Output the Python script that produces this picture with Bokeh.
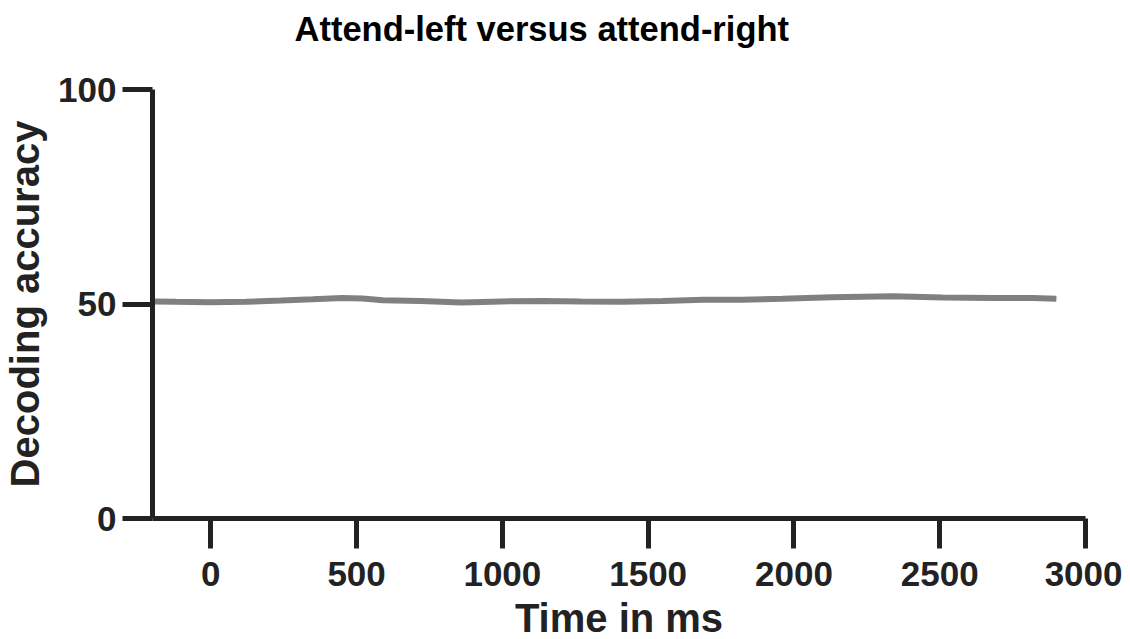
from bokeh.plotting import figure
from bokeh.models import Range1d, FixedTicker, Title
from bokeh.embed import file_html
from bokeh.resources import INLINE

# Data
time_ms = [-200, -120, 0, 120, 240, 350, 450, 520, 590, 720, 860, 1000, 1140, 1270,
           1410, 1550, 1690, 1820, 1960, 2130, 2340, 2510, 2680, 2820, 2900]
accuracy = [50.6, 50.5, 50.4, 50.5, 50.8, 51.1, 51.4, 51.3, 50.9, 50.7, 50.35, 50.6, 50.7, 50.6,
            50.5, 50.7, 51.0, 51.0, 51.2, 51.6, 51.8, 51.5, 51.4, 51.4, 51.2]
sem = [0.45, 0.45, 0.45, 0.45, 0.45, 0.5, 0.5, 0.5, 0.45, 0.45, 0.45, 0.45, 0.45, 0.45,
       0.45, 0.45, 0.45, 0.45, 0.45, 0.5, 0.5, 0.45, 0.45, 0.45, 0.45]
x_ticks = [0, 500, 1000, 1500, 2000, 2500, 3000]
y_ticks = [0, 50, 100]
title_text = "Attend-left versus attend-right"

lower = [a - s for a, s in zip(accuracy, sem)]
upper = [a + s for a, s in zip(accuracy, sem)]

FONT = "Liberation Sans"
AX = "#222222"

p = figure(frame_width=933, frame_height=429,
           x_range=Range1d(-200, 3000), y_range=Range1d(0, 100),
           output_backend="svg", toolbar_location=None,
           min_border_left=144, min_border_top=89, min_border_right=37, min_border_bottom=110,
           title=title_text)

p.title.text_font = FONT
p.title.text_font_style = "bold"
p.title.text_font_size = "34.5px"
p.title.text_color = "#000000"
p.title.align = "left"
p.title.offset = 142
p.title.standoff = 10

# blank spacer between the frame and the title
spacer = Title(text=" ", text_font_size="10px", standoff=24)
p.add_layout(spacer, "above")

p.grid.visible = False
p.outline_line_color = None
p.background_fill_color = "white"
p.border_fill_color = "white"

p.varea(x=time_ms, y1=lower, y2=upper, fill_color="#e0e0e0", fill_alpha=0.9)
p.line(time_ms, accuracy, line_color="#808080", line_width=6)

for ax in (p.xaxis[0], p.yaxis[0]):
    ax.axis_line_color = AX
    ax.axis_line_width = 5
    ax.major_tick_line_color = AX
    ax.major_tick_line_width = 5
    ax.major_tick_out = 30
    ax.major_tick_in = 0
    ax.minor_tick_line_color = None
    ax.major_label_text_font = FONT
    ax.major_label_text_font_style = "bold"
    ax.major_label_text_font_size = "35px"
    ax.major_label_text_color = AX
    ax.axis_label_text_font = FONT
    ax.axis_label_text_font_style = "bold"
    ax.axis_label_text_font_size = "40px"
    ax.axis_label_text_color = AX

p.xaxis.ticker = FixedTicker(ticks=x_ticks)
p.yaxis.ticker = FixedTicker(ticks=y_ticks)
p.xaxis.axis_label = "Time in ms"
p.yaxis.axis_label = "Decoding accuracy"
p.xaxis.major_label_standoff = 13
p.yaxis.major_label_standoff = 6
p.xaxis.axis_label_standoff = 7
p.yaxis.axis_label_standoff = 8

open("out.html", "w").write(file_html(p, INLINE))
